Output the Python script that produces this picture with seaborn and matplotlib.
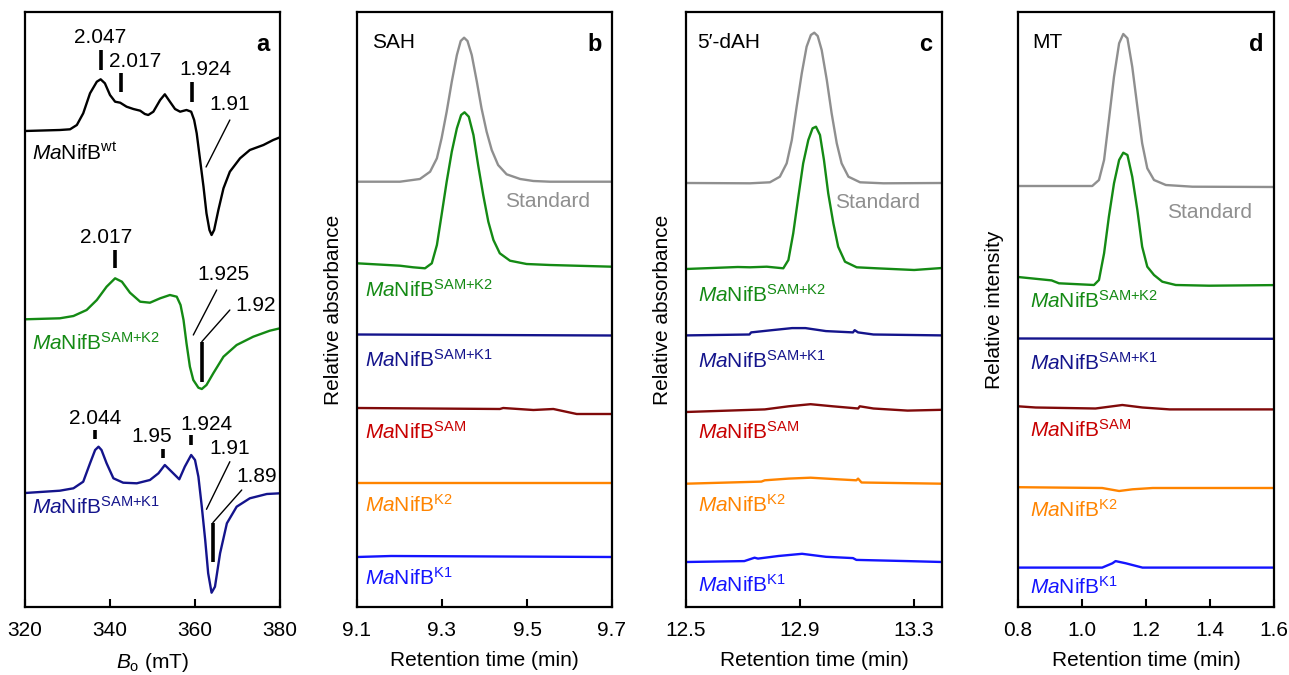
import numpy as np
import pandas as pd
import matplotlib
matplotlib.use('Agg')
import matplotlib.pyplot as plt
import seaborn as sns

# ---- panel a: EPR spectra (field in mT, signal in arbitrary offset units) ----
epr_wt_b = [320.0, 328.2, 330.6, 332.2, 333.7, 335.3, 336.9, 337.8, 338.8, 340.0, 341.2, 342.4,
            343.9, 345.5, 347.1, 348.2, 349.0, 350.2, 351.8, 352.9, 354.1, 355.3, 356.5, 358.0,
            359.1, 359.8, 360.4, 361.2, 362.0, 362.7, 363.4, 363.9, 364.5, 365.5, 366.7, 368.2,
            370.6, 372.9, 376.1, 378.4, 380.0]
epr_wt_s = [476, 477, 477.7, 482, 493.7, 513.7, 525.3, 527.7, 523.7, 512, 505.3, 504.3,
            500.3, 498, 496.3, 493, 492, 495.3, 507, 512.7, 505.3, 498, 495.3, 497,
            495.3, 487, 473.7, 447, 420.3, 393.7, 377, 372, 377, 397, 418.7, 435.3,
            448.7, 457, 462, 467, 469.7]

epr_k2_b = [320.0, 328.2, 331.4, 334.5, 336.9, 339.2, 341.2, 342.8, 344.7, 347.1, 349.4, 351.8,
            354.1, 355.7, 356.6, 357.3, 358.0, 358.8, 359.6, 360.8, 361.6, 362.7, 364.3, 366.7,
            369.8, 373.7, 377.6, 380.0]
epr_k2_s = [287.7, 288.7, 291, 297, 307, 320.3, 328.7, 325.3, 314.3, 305.3, 304.3, 308.7,
            312, 310.3, 302, 287, 263.7, 240.3, 227, 219.3, 218, 222, 233.7, 250.3,
            262, 270.3, 276.3, 278.7]

epr_k1_b = [320.0, 328.2, 331.4, 333.7, 335.3, 336.5, 337.3, 338.0, 339.2, 340.8, 343.1, 346.3,
            349.4, 351.4, 352.9, 354.5, 356.3, 357.6, 359.1, 360.0, 360.8, 361.6, 362.4, 363.1,
            363.9, 364.7, 365.9, 367.5, 369.8, 372.9, 376.9, 380.0]
epr_k1_s = [114, 116.3, 118.7, 125.3, 143.7, 157, 160.3, 157, 143.7, 128.7, 124.3, 123.7,
            127, 133.7, 142, 135.3, 127.7, 140.3, 152, 147, 130.3, 100.3, 67, 33.7,
            14.3, 20.3, 53.7, 83.7, 100.3, 108.7, 113, 113.7]

# g-value labels: (text, x, y); tick marks (x, y0, y1); leader lines
g_labels = [('2.047', 337.6, 569), ('2.017', 345.9, 545), ('1.924', 362.4, 537), ('1.91', 368.2, 502),
            ('2.017', 339.2, 369), ('1.925', 366.7, 332), ('1.92', 374.3, 301),
            ('2.044', 336.5, 189), ('1.95', 349.8, 170), ('1.924', 362.7, 182), ('1.91', 368.2, 159),
            ('1.89', 374.5, 130)]
g_ticks = [(337.8, 557, 537), (342.6, 534, 515), (359.2, 525, 505),
           (341.2, 357, 339),
           (336.5, 177, 168), (352.5, 158, 149), (359.1, 172, 162)]
g_leaders = [([368.2, 362.6], [487, 440]),
             ([365.1, 359.6], [317, 272]),
             ([368.2, 361.6, 361.6], [297, 265.3, 225.3]),
             ([368.2, 362.7], [145.3, 97.7]),
             ([371.0, 364.2, 364.2], [117, 84.3, 45.3])]

# ---- panel b: SAH (retention time in min) ----
b_std_t = [9.1, 9.201, 9.248, 9.272, 9.288, 9.299, 9.311, 9.323, 9.335, 9.344, 9.352, 9.360,
           9.370, 9.382, 9.393, 9.405, 9.417, 9.432, 9.452, 9.484, 9.515, 9.554, 9.7]
b_std_y = [425.3, 425.3, 428, 435.3, 448.7, 468.7, 495.3, 525.3, 552, 566, 569.3, 566,
           552, 525.3, 498.7, 475.3, 457, 442, 432.7, 428, 426, 425.3, 425.3]
b_k2_t = [9.1, 9.201, 9.232, 9.260, 9.276, 9.288, 9.299, 9.311, 9.323, 9.335, 9.345, 9.353,
          9.363, 9.374, 9.385, 9.397, 9.409, 9.421, 9.436, 9.460, 9.499, 9.554, 9.7]
b_k2_y = [343.7, 341.3, 339.7, 338.7, 343.7, 362, 392, 425.3, 455.3, 478.7, 492, 494.7,
          490.3, 472, 442, 412, 385.3, 367, 353.7, 346.3, 343, 342, 340.3]
b_k1sam_t = [9.1, 9.4, 9.7]
b_k1sam_y = [272.5, 272, 271.5]
b_sam_t = [9.1, 9.436, 9.444, 9.515, 9.562, 9.617, 9.7]
b_sam_y = [199, 198, 199, 197, 198, 193, 193]
b_k2only_t = [9.1, 9.7]
b_k2only_y = [124, 124]
b_k1only_t = [9.1, 9.18, 9.7]
b_k1only_y = [50, 51, 50]

# ---- panel c: 5'-dAH ----
c_std_t = [12.5, 12.725, 12.795, 12.830, 12.854, 12.872, 12.889, 12.907, 12.924, 12.939, 12.951,
           12.963, 12.977, 12.995, 13.012, 13.030, 13.047, 13.071, 13.112, 13.194, 13.4]
c_std_y = [424, 423.7, 424.7, 430.3, 443.7, 467, 500.3, 533.7, 560.3, 572, 574.3,
           571, 557, 527, 493.7, 463.7, 443.7, 430.3, 424.7, 423.7, 424]
c_k2_t = [12.5, 12.682, 12.725, 12.784, 12.842, 12.860, 12.877, 12.895, 12.912, 12.930, 12.945,
          12.957, 12.971, 12.985, 13.000, 13.018, 13.035, 13.059, 13.100, 13.170, 13.302, 13.4]
c_k2_y = [338, 340, 339.7, 340.3, 338.7, 347, 373.7, 410.3, 443.7, 467, 478.7,
          480.3, 472, 447, 413.7, 383.7, 360.3, 345.3, 339.7, 338.7, 337, 339]
c_k1sam_t = [12.5, 12.723, 12.729, 12.801, 12.873, 12.920, 12.992, 13.087, 13.093, 13.105, 13.159, 13.4]
c_k1sam_y = [271.6, 272.5, 274.6, 276.8, 278.9, 278.9, 275.9, 274.6, 276.8, 274.6, 272.5, 271.6]
c_sam_t = [12.5, 12.777, 12.861, 12.938, 13.016, 13.105, 13.111, 13.159, 13.279, 13.4]
c_sam_y = [195, 197.6, 200.7, 202.8, 200.7, 198.5, 200.7, 198.5, 196.4, 197.2]
c_k2only_t = [12.5, 12.765, 12.777, 12.861, 12.938, 13.040, 13.099, 13.105, 13.117, 13.4]
c_k2only_y = [123.3, 125.4, 126.7, 128.4, 129.3, 127.6, 126.7, 128.4, 124.5, 123.3]
c_k1only_t = [12.5, 12.705, 12.741, 12.753, 12.825, 12.908, 12.992, 13.087, 13.099, 13.279, 13.4]
c_k1only_y = [45.0, 45.9, 49.3, 48.4, 51.0, 53.2, 50.2, 48.9, 47.1, 45.9, 45.0]

# ---- panel d: MT ----
d_std_t = [0.8, 0.928, 1.032, 1.053, 1.069, 1.084, 1.100, 1.116, 1.129, 1.142, 1.157, 1.173,
           1.188, 1.204, 1.225, 1.262, 1.345, 1.6]
d_std_y = [421, 421, 421, 427, 447, 487, 530.3, 563.7, 573, 568.7, 540.3, 500.3,
           463.7, 438.7, 427, 422, 420.3, 420]
d_k2_t = [0.8, 0.905, 0.928, 1.0375, 1.053, 1.069, 1.084, 1.100, 1.116, 1.129, 1.142, 1.157,
          1.173, 1.188, 1.204, 1.225, 1.251, 1.293, 1.397, 1.6]
d_k2_y = [330, 326.6, 323.7, 322, 327, 353.7, 390.3, 423.7, 447, 454.3, 452, 430.3,
          397, 360.3, 340.3, 332, 325.3, 322, 321.3, 321.9]
d_k1sam_t = [0.8, 1.6]
d_k1sam_y = [268.5, 268.2]
d_sam_t = [0.8, 0.855, 1.042, 1.126, 1.189, 1.274, 1.6]
d_sam_y = [200.7, 199.5, 198.5, 202.0, 199.5, 197.6, 197.6]
d_k2only_t = [0.8, 1.063, 1.116, 1.158, 1.221, 1.6]
d_k2only_y = [119.8, 119.0, 116.0, 117.7, 119.0, 119.0]
d_k1only_t = [0.8, 1.063, 1.095, 1.105, 1.137, 1.189, 1.6]
d_k1only_y = [39.4, 39.4, 43.7, 45.9, 43.7, 39.4, 39.4]

# label rows per chromatogram panel: Standard, SAM+K2, SAM+K1, SAM, K2, K1
b_label_y = [405, 317, 247, 175, 102, 29]
c_label_y = [404, 312, 246, 175, 102, 22]
d_label_y = [394, 306, 244, 177, 97, 20]

sns.set_theme(style='ticks')
plt.rcParams['font.family'] = ['Liberation Sans', 'DejaVu Sans']
plt.rcParams['mathtext.fontset'] = 'custom'
plt.rcParams['mathtext.rm'] = 'Liberation Sans'
plt.rcParams['mathtext.it'] = 'Liberation Sans:italic'
plt.rcParams['mathtext.bf'] = 'Liberation Sans:bold'
plt.rcParams['text.color'] = 'black'
plt.rcParams['axes.labelcolor'] = 'black'
plt.rcParams['xtick.color'] = 'black'
plt.rcParams['lines.solid_joinstyle'] = 'round'

FS = 15
GRAY, GREEN, NAVY = '#8f8f8f', '#148a14', '#14148c'
DRED, RED, ORANGE, BLUE = '#800a0a', '#c80000', '#ff8400', '#1414ff'


def name(sup):
    return r'$\mathit{Ma}\mathrm{NifB}^{\mathrm{' + sup + r'}}$'


def style_axes(ax, xlim, xticks, xticklabels, xlabel, letter):
    ax.set_xlim(*xlim)
    ax.set_ylim(0, 595)
    ax.set_yticks([])
    ax.set_xticks(xticks)
    ax.set_xticklabels(xticklabels, fontsize=FS)
    ax.tick_params(axis='x', direction='in', length=6, width=1.5, pad=10, colors='black')
    for sp in ax.spines.values():
        sp.set_visible(True)
        sp.set_linewidth(1.6)
        sp.set_color('black')
    ax.set_xlabel(xlabel, fontsize=FS, labelpad=8)
    ax.text(0.96, 0.965, letter, transform=ax.transAxes, ha='right', va='top',
            fontsize=FS + 2, fontweight='bold')


fig = plt.figure(figsize=(12.89, 6.75), dpi=100)
W, H = 1289, 675
lefts = [25, 357, 686, 1018]
widths = [255, 255, 256, 256]
axes = [fig.add_axes([l / W, (H - 607) / H, w / W, 595 / H]) for l, w in zip(lefts, widths)]

# ---- a ----
ax = axes[0]
sns.lineplot(x=epr_wt_b, y=epr_wt_s, ax=ax, color='black', lw=1.7, sort=False)
sns.lineplot(x=epr_k2_b, y=epr_k2_s, ax=ax, color=GREEN, lw=1.7, sort=False)
sns.lineplot(x=epr_k1_b, y=epr_k1_s, ax=ax, color=NAVY, lw=1.7, sort=False)
for txt, x, y in g_labels:
    ax.text(x, y, txt, ha='center', va='center', fontsize=FS)
for x, y0, y1 in g_ticks:
    ax.plot([x, x], [y0, y1], color='black', lw=2.6, solid_capstyle='butt')
for xs, ys in g_leaders:
    ax.plot(xs[:2], ys[:2], color='black', lw=1.0)
    if len(xs) > 2:
        ax.plot(xs[1:], ys[1:], color='black', lw=2.6, solid_capstyle='butt')
ax.text(321.6, 454, r'$\mathit{Ma}\mathrm{NifB}^{\mathrm{wt}}$', fontsize=FS, va='center')
ax.text(321.6, 264, name('SAM{+}K2'), fontsize=FS, va='center', color=GREEN)
ax.text(321.6, 100, name('SAM{+}K1'), fontsize=FS, va='center', color=NAVY)
style_axes(ax, (320, 380), [320, 340, 360, 380], ['320', '340', '360', '380'],
           r'$\mathit{B}_\mathrm{o}$ (mT)', 'a')

# ---- b, c, d ----
panels = [
    (axes[1], 'SAH', 'Relative absorbance', (9.1, 9.7), [9.1, 9.3, 9.5, 9.7],
     ['9.1', '9.3', '9.5', '9.7'], 'b', 9.135, 9.119, 9.448, b_label_y,
     [(b_std_t, b_std_y), (b_k2_t, b_k2_y), (b_k1sam_t, b_k1sam_y), (b_sam_t, b_sam_y),
      (b_k2only_t, b_k2only_y), (b_k1only_t, b_k1only_y)]),
    (axes[2], '5\u2032-dAH', 'Relative absorbance', (12.5, 13.4), [12.5, 12.9, 13.3],
     ['12.5', '12.9', '13.3'], 'c', 12.539, 12.542, 13.024, c_label_y,
     [(c_std_t, c_std_y), (c_k2_t, c_k2_y), (c_k1sam_t, c_k1sam_y), (c_sam_t, c_sam_y),
      (c_k2only_t, c_k2only_y), (c_k1only_t, c_k1only_y)]),
    (axes[3], 'MT', 'Relative intensity', (0.8, 1.6), [0.8, 1.0, 1.2, 1.4, 1.6],
     ['0.8', '1.0', '1.2', '1.4', '1.6'], 'd', 0.844, 0.838, 1.266, d_label_y,
     [(d_std_t, d_std_y), (d_k2_t, d_k2_y), (d_k1sam_t, d_k1sam_y), (d_sam_t, d_sam_y),
      (d_k2only_t, d_k2only_y), (d_k1only_t, d_k1only_y)]),
]
line_colors = [GRAY, GREEN, NAVY, DRED, ORANGE, BLUE]
text_colors = [GRAY, GREEN, NAVY, RED, ORANGE, BLUE]
sups = ['SAM{+}K2', 'SAM{+}K1', 'SAM', 'K2', 'K1']

for ax, title, ylab, xlim, xt, xtl, letter, tx, lx, sx, ly, traces in panels:
    for (t, y), c in zip(traces, line_colors):
        sns.lineplot(x=t, y=y, ax=ax, color=c, lw=1.7, sort=False)
    ax.text(tx, 564, title, fontsize=FS, va='center')
    ax.text(sx, ly[0], 'Standard', fontsize=FS, va='center', color=GRAY)
    for sup, yy, c in zip(sups, ly[1:], text_colors[1:]):
        ax.text(lx, yy, name(sup), fontsize=FS, va='center', color=c)
    style_axes(ax, xlim, xt, xtl, 'Retention time (min)', letter)
    ax.set_ylabel(ylab, fontsize=FS, labelpad=10)

fig.savefig('out.png', dpi=100)
